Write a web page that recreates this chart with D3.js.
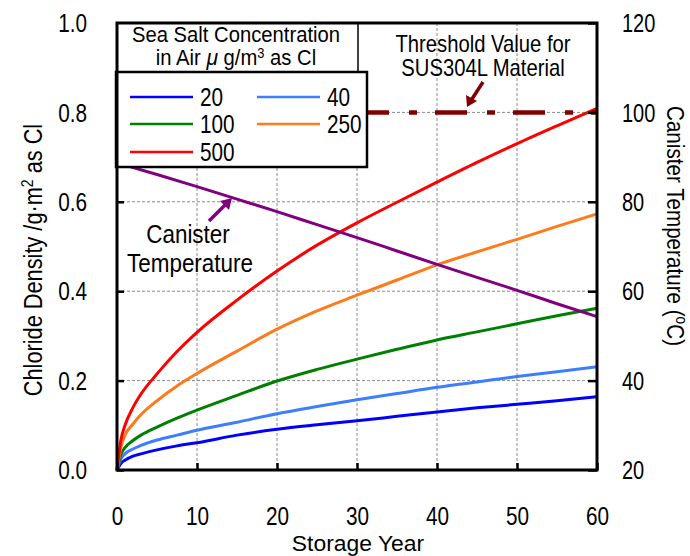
<!DOCTYPE html>
<html><head><meta charset="utf-8">
<script src="https://cdn.jsdelivr.net/npm/d3@7"></script>
<style>body{margin:0;background:#fff}svg{display:block;font-family:"Liberation Sans",Arial,sans-serif}</style>
</head><body><svg id="c" width="690" height="556"></svg>
<script>
// ---- data ----
const years   = [0, 0.5, 1, 2, 3, 5, 7.5, 10, 15, 20, 25, 30, 35, 40, 45, 50, 55, 60];
const conc20  = [0, 0.015, 0.022, 0.031, 0.036, 0.045, 0.054, 0.061, 0.078, 0.091, 0.101, 0.110, 0.120, 0.130, 0.139, 0.147, 0.155, 0.164];
const conc40  = [0, 0.025, 0.036, 0.047, 0.055, 0.067, 0.078, 0.089, 0.107, 0.126, 0.142, 0.157, 0.171, 0.185, 0.197, 0.209, 0.220, 0.231];
const conc100 = [0, 0.035, 0.050, 0.066, 0.078, 0.096, 0.116, 0.134, 0.167, 0.199, 0.225, 0.248, 0.270, 0.291, 0.309, 0.327, 0.345, 0.362];
const conc250 = [0, 0.052, 0.078, 0.103, 0.124, 0.155, 0.188, 0.216, 0.266, 0.315, 0.356, 0.391, 0.425, 0.459, 0.488, 0.516, 0.545, 0.573];
const conc500 = [0, 0.068, 0.100, 0.140, 0.170, 0.215, 0.265, 0.308, 0.380, 0.445, 0.503, 0.553, 0.599, 0.644, 0.688, 0.730, 0.770, 0.809];
const tempYears    = [0, 5, 10, 15, 20, 25, 30, 35, 40, 45, 50, 55, 60];
const canisterTemp = [88.7, 86.1, 83.4, 80.6, 77.8, 74.9, 72.0, 69.0, 66.0, 63.1, 60.2, 57.2, 54.3];
const thresholdValue = 0.8;
const seriesLabels = ["20", "40", "100", "250", "500"];
const seriesValues = [conc20, conc40, conc100, conc250, conc500];
const seriesColors = ["#0000ff", "#3d7eff", "#008000", "#ff7a1a", "#ff0000"];
const xTicks = [0, 10, 20, 30, 40, 50, 60];
const yTicks = [0, 0.2, 0.4, 0.6, 0.8, 1.0];
const tTicks = [20, 40, 60, 80, 100, 120];

// ---- layout ----
const svg = d3.select("#c");
const L = 117, R = 597, T = 23, B = 470;
const x = d3.scaleLinear([0, 60], [L, R]);
const y = d3.scaleLinear([0, 1], [B, T]);
const yT = d3.scaleLinear([20, 120], [B, T]);

function label(parent, px, py, str, o) {
  const g = parent.append("g")
    .attr("transform", `translate(${px},${py}) rotate(${o.rot || 0}) scale(${o.sx || 0.85},1)`);
  const t = g.append("text").attr("text-anchor", o.anchor || "middle")
    .attr("font-size", o.size || 25).attr("fill", "#000");
  if (typeof str === "string") t.text(str); else str(t);
  return g;
}

// gridlines
const grid = svg.append("g").attr("stroke", "#8a8a8a").attr("stroke-width", 1).attr("stroke-dasharray", "3,2");
grid.selectAll(".gx").data(xTicks.slice(1, -1)).join("line")
  .attr("x1", d => x(d)).attr("x2", d => x(d)).attr("y1", T).attr("y2", B);
grid.selectAll(".gy").data(yTicks.slice(1, -1)).join("line")
  .attr("x1", L).attr("x2", R).attr("y1", d => y(d)).attr("y2", d => y(d));

// chloride curves
const line = d3.line().x((d, i) => x(years[i])).y(d => y(d)).curve(d3.curveMonotoneX);
svg.append("g").selectAll("path").data(seriesValues).join("path")
  .attr("d", d => line(d)).attr("fill", "none")
  .attr("stroke", (d, i) => seriesColors[i]).attr("stroke-width", 3);

// canister temperature
const tline = d3.line().x((d, i) => x(tempYears[i])).y(d => yT(d)).curve(d3.curveMonotoneX);
svg.append("path").attr("d", tline(canisterTemp)).attr("fill", "none")
  .attr("stroke", "#800080").attr("stroke-width", 3);

// threshold line
svg.append("line").attr("x1", L).attr("x2", R).attr("y1", y(thresholdValue)).attr("y2", y(thresholdValue))
  .attr("stroke", "#800000").attr("stroke-width", 4.5)
  .attr("stroke-dasharray", "32,20,8,18").attr("stroke-dashoffset", 72);

// axes
const ax = svg.append("g").attr("transform", `translate(${L},0)`)
  .call(d3.axisLeft(y).tickValues(yTicks).tickSize(-7).tickFormat(d3.format(".1f")));
const bx = svg.append("g").attr("transform", `translate(0,${B})`)
  .call(d3.axisBottom(x).tickValues(xTicks).tickSize(-7).tickFormat(d3.format("d")));
const rx = svg.append("g").attr("transform", `translate(${R},0)`)
  .call(d3.axisRight(yT).tickValues(tTicks).tickSize(-9).tickFormat(d3.format("d")));
[ax, bx, rx].forEach(g => {
  g.select(".domain").remove();
  g.selectAll(".tick line").attr("stroke", "#000").attr("stroke-width", 2.5);
  g.selectAll(".tick text").attr("font-size", 25).attr("fill", "#000")
    .attr("font-family", "'Liberation Sans', Arial, sans-serif");
});
ax.selectAll(".tick text").attr("x", 0).attr("dy", "0.35em").attr("text-anchor", "end")
  .attr("transform", "translate(-30,0) scale(0.83,1)");
bx.selectAll(".tick text").attr("y", 0).attr("dy", 0).attr("text-anchor", "middle")
  .attr("transform", "translate(0,55) scale(0.83,1)");
rx.selectAll(".tick text").attr("x", 0).attr("dy", "0.35em").attr("text-anchor", "start")
  .attr("transform", "translate(25,0) scale(0.8,1)");

// axis titles
label(svg, 42, 260, t => {
  t.append("tspan").text("Chloride Density /g·m");
  t.append("tspan").attr("font-size", 16).attr("dy", -9).text("2");
  t.append("tspan").attr("dy", 9).text(" as Cl");
}, { rot: -90, size: 25, sx: 0.87 });
label(svg, 358, 551, "Storage Year", { size: 22, sx: 1.04 });
label(svg, 667, 226, t => {
  t.append("tspan").text("Canister Temperature (");
  t.append("tspan").attr("font-size", 16).attr("dy", -9).text("o");
  t.append("tspan").attr("dy", 9).text("C)");
}, { rot: 90, size: 24, sx: 0.86 });

// annotations
const ann = svg.append("g");
ann.append("line").attr("x1", 483).attr("y1", 82).attr("x2", 472).attr("y2", 99)
  .attr("stroke", "#800000").attr("stroke-width", 3.5);
ann.append("path").attr("d", "M467,107 L466,95 L477,101 Z").attr("fill", "#800000");
label(ann, 483, 52, "Threshold Value for", { size: 23, sx: 0.88 });
label(ann, 483, 76, "SUS304L Material", { size: 23, sx: 0.88 });

ann.append("line").attr("x1", 209).attr("y1", 221).attr("x2", 226).attr("y2", 204)
  .attr("stroke", "#800080").attr("stroke-width", 3.5);
ann.append("path").attr("d", "M232,198 L229,210 L220,201 Z").attr("fill", "#800080");
label(ann, 188, 243, "Canister", { size: 25.5, sx: 0.88 });
label(ann, 190, 272, "Temperature", { size: 25.5, sx: 0.88 });

// legend title box
svg.append("rect").attr("x", L).attr("y", T).attr("width", 358 - L).attr("height", 72 - T)
  .attr("fill", "#fff").attr("stroke", "#000").attr("stroke-width", 1.5);
label(svg, 236, 42, "Sea Salt Concentration", { size: 22, sx: 0.92 });
label(svg, 236, 65, t => {
  t.append("tspan").text("in Air  ");
  t.append("tspan").attr("font-style", "italic").attr("font-size", 23).text("μ");
  t.append("tspan").text(" g/m");
  t.append("tspan").attr("font-size", 14).attr("dy", -7).text("3");
  t.append("tspan").attr("dy", 7).text(" as Cl");
}, { size: 22, sx: 0.92 });

// legend box
svg.append("rect").attr("x", 116).attr("y", 72).attr("width", 251).attr("height", 95)
  .attr("fill", "#fff").attr("stroke", "#000").attr("stroke-width", 2.5);
const legPos = [[130, 97], [257, 97], [130, 124], [257, 124], [130, 152]];
seriesLabels.forEach((s, i) => {
  const [lx, ly] = legPos[i];
  svg.append("line").attr("x1", lx).attr("x2", lx + 63).attr("y1", ly).attr("y2", ly)
    .attr("stroke", seriesColors[i]).attr("stroke-width", 2.5);
  label(svg, lx + 70, ly + 9, s, { size: 25, sx: 0.83, anchor: "start" });
});

// frame
svg.append("rect").attr("x", L).attr("y", T).attr("width", R - L).attr("height", B - T)
  .attr("fill", "none").attr("stroke", "#000").attr("stroke-width", 3);
</script></body></html>
